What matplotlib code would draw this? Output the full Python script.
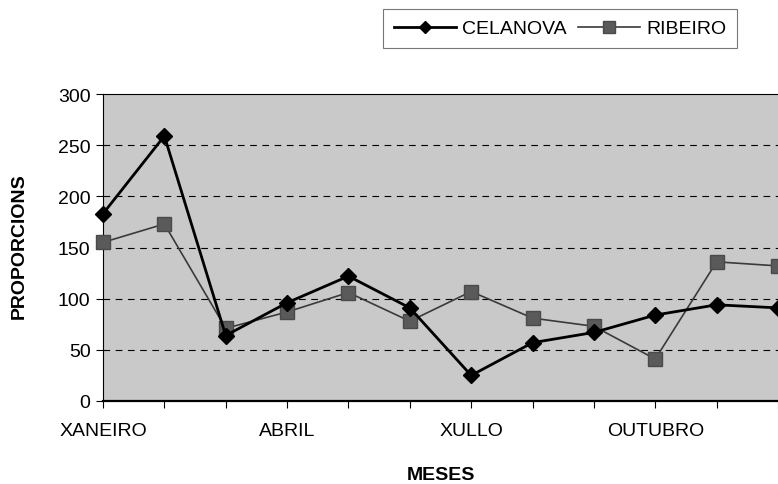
from matplotlib import pyplot as plt

meses = ["XANEIRO", "FEBREIRO", "MARZO", "ABRIL", "MAIO", "XUÑO",
         "XULLO", "AGOSTO", "SETEMBRO", "OUTUBRO", "NOVEMBRO", "DECEMBRO"]
celanova = [183, 259, 64, 96, 122, 91, 25, 57, 67, 84, 94, 91]
ribeiro = [155, 173, 71, 87, 106, 78, 107, 81, 73, 41, 136, 132]
yticks = [0, 50, 100, 150, 200, 250, 300]

plt.rcParams["font.family"] = ["Liberation Sans", "DejaVu Sans"]

fig = plt.figure(figsize=(7.78, 4.85), dpi=100)
ax = fig.add_axes([103 / 778, 83 / 485, 675 / 778, 307 / 485])
ax.set_facecolor("#c9c9c9")

x = list(range(len(meses)))
ax.plot(x, celanova, color="black", lw=2.0, marker="D", ms=8,
        label="CELANOVA", zorder=4, clip_on=False)
ax.plot(x, ribeiro, color="#3a3a3a", lw=1.2, marker="s", ms=10,
        markerfacecolor="#5a5a5a", markeredgecolor="#4a4a4a",
        label="RIBEIRO", zorder=3, clip_on=False)

ax.set_xlim(0, len(meses) - 1)
ax.set_ylim(0, 300)
ax.set_yticks(yticks)
ax.set_yticklabels([str(v) for v in yticks], fontsize=14)
ax.set_xticks(x)
ax.set_xticklabels([m if i % 3 == 0 else "" for i, m in enumerate(meses)],
                   fontsize=14)
ax.tick_params(axis="x", length=5, width=0.8, pad=10)
ax.tick_params(axis="y", length=5, width=0.8, pad=4)

for v in yticks[1:-1]:
    ax.axhline(v, color="black", lw=0.8, ls=(0, (6, 5)), zorder=1)

for side in ["top", "left"]:
    ax.spines[side].set_linewidth(0.8)
ax.spines["bottom"].set_linewidth(1.6)
ax.spines["right"].set_visible(False)

fig.text(19 / 778, 1 - 246 / 485, "PROPORCIONS", fontsize=14,
         fontweight="bold", rotation=90, ha="center", va="center")
fig.text(441 / 778, 1 - 476 / 485, "MESES", fontsize=14,
         fontweight="bold", ha="center", va="center")

leg = fig.legend(loc="upper left", bbox_to_anchor=(383 / 778, 1 - 10 / 485),
                 borderaxespad=0, ncol=2, fontsize=14, frameon=True,
                 fancybox=False, edgecolor="#555555", handlelength=3.2,
                 columnspacing=0.6, handletextpad=0.3, borderpad=0.55,
                 markerscale=0.8)
leg.get_frame().set_linewidth(0.8)

fig.savefig("out.png", dpi=100)
